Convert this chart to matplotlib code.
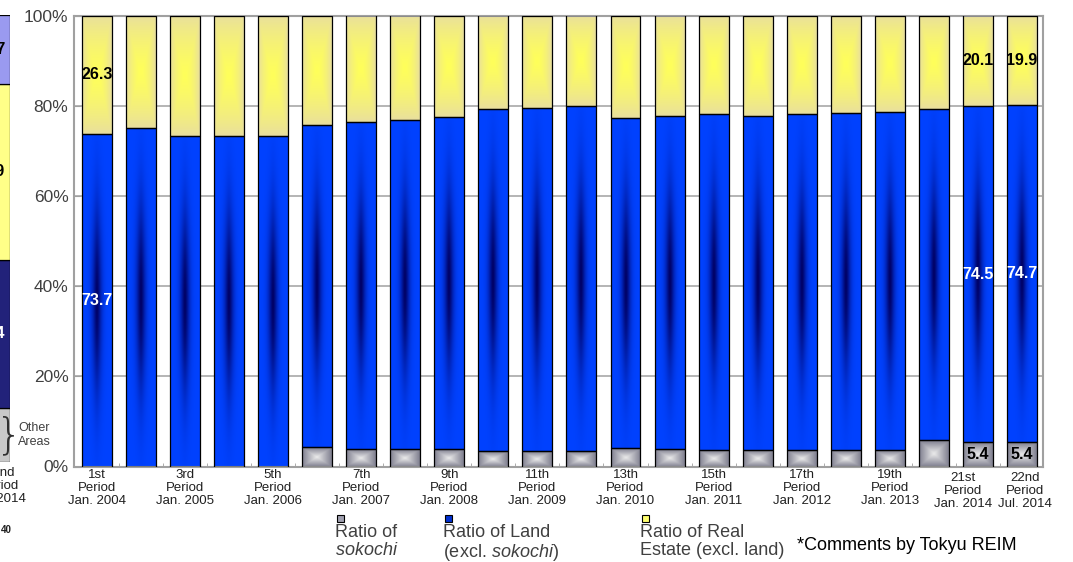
import numpy as np
import matplotlib
matplotlib.use("Agg")
import matplotlib.pyplot as plt
from matplotlib.patches import Rectangle
from matplotlib.transforms import ScaledTranslation

plt.rcParams['font.family'] = ['Liberation Sans', 'DejaVu Sans']
plt.rcParams['mathtext.fontset'] = 'custom'
plt.rcParams['mathtext.rm'] = 'Liberation Sans'
plt.rcParams['mathtext.it'] = 'Liberation Sans:italic'

# ---------------- data ----------------
periods = ["1st", "2nd", "3rd", "4th", "5th", "6th", "7th", "8th", "9th", "10th", "11th",
           "12th", "13th", "14th", "15th", "16th", "17th", "18th", "19th", "20th", "21st", "22nd"]
dates = ["Jan. 2004", "Jul. 2004", "Jan. 2005", "Jul. 2005", "Jan. 2006", "Jul. 2006",
         "Jan. 2007", "Jul. 2007", "Jan. 2008", "Jul. 2008", "Jan. 2009", "Jul. 2009",
         "Jan. 2010", "Jul. 2010", "Jan. 2011", "Jul. 2011", "Jan. 2012", "Jul. 2012",
         "Jan. 2013", "Jul. 2013", "Jan. 2014", "Jul. 2014"]
labeled_idx = [0, 2, 4, 6, 8, 10, 12, 14, 16, 18, 20, 21]

sokochi = [0, 0, 0, 0, 0, 4.4, 3.9, 3.9, 3.9, 3.4, 3.4, 3.4, 4.2, 3.9,
           3.7, 3.7, 3.7, 3.7, 3.7, 5.8, 5.4, 5.4]
land = [73.7, 75.1, 73.2, 73.2, 73.2, 71.3, 72.5, 72.9, 73.7, 75.9, 76.2, 76.5,
        73.1, 73.9, 74.4, 74.1, 74.4, 74.6, 74.9, 73.5, 74.5, 74.7]
real_estate = [26.3, 24.9, 26.8, 26.8, 26.8, 24.3, 23.6, 23.2, 22.4, 20.7, 20.4, 20.1,
               22.7, 22.2, 21.9, 22.2, 21.9, 21.7, 21.4, 20.7, 20.1, 19.9]

# labels shown on the chart: (bar index, series, text)
shown_labels = [(0, "land", "73.7"), (0, "re", "26.3"),
                (20, "sok", "5.4"), (20, "land", "74.5"), (20, "re", "20.1"),
                (21, "sok", "5.4"), (21, "land", "74.7"), (21, "re", "19.9")]

legend_names = ["Ratio of\n$\\it{sokochi}$", "Ratio of Land\n(excl. $\\it{sokochi}$)",
                "Ratio of Real\nEstate (excl. land)"]
yticks = [0, 20, 40, 60, 80, 100]

# neighbouring (cropped) chart on the left edge of the slide
frag_vals = [12.0, 33.3, 39.3, 15.4]
frag_cols = ["#c8c8c8", "#22227a", "#ffff88", "#9a9af0"]
frag_texts = [(1, "33.4", "white"), (2, "39.9", "black"), (3, "15.7", "black")]

# ---------------- gradients ----------------
def grad_blue(nx=40, ny=300):
    dx = np.linspace(-1, 1, nx)[None, :]
    dy = np.linspace(-1, 1, ny)[:, None]
    f = np.exp(-(np.abs(dx) / 0.32) ** 1.6 - (np.abs(dy) / 0.55) ** 2)
    base = np.array([0, 66, 255]) / 255
    dark = np.array([0, 0, 100]) / 255
    return base * (1 - f[..., None]) + dark * f[..., None]

def grad_yellow(nx=40, ny=200):
    dx = np.linspace(-1, 1, nx)[None, :]
    dy = np.linspace(-1, 1, ny)[:, None]
    f = np.clip(1 - np.maximum(np.abs(dx) ** 1.5, np.abs(dy) ** 1.2), 0, 1)
    f = f ** 0.8
    edge = np.array([232, 222, 160]) / 255
    mid = np.array([255, 255, 90]) / 255
    return edge * (1 - f[..., None]) + mid * f[..., None]

def grad_gray(nx=40, ny=20):
    dx = np.linspace(-1, 1, nx)[None, :]
    dy = np.linspace(-1, 1, ny)[:, None]
    f = np.clip(1 - np.maximum(np.abs(dx), np.abs(dy)), 0, 1)
    edge = np.array([128, 128, 144]) / 255
    mid = np.array([236, 236, 236]) / 255
    return edge * (1 - f[..., None]) + mid * f[..., None]

def fill_gradient(ax, bars, img):
    for p in bars:
        if p.get_height() <= 0:
            continue
        x0, y0 = p.get_x(), p.get_y()
        w, h = p.get_width(), p.get_height()
        im = ax.imshow(img, extent=(x0, x0 + w, y0, y0 + h), origin='lower',
                       aspect='auto', interpolation='bilinear', zorder=2)
        im.set_clip_path(p)

# ---------------- figure ----------------
W, H = 1073, 562
fig = plt.figure(figsize=(W / 100, H / 100), dpi=100)

def fx(px):
    return px / W

def fy(py):
    return 1 - py / H

ax_left, ax_right, ax_top, ax_bot = 74, 1043, 15.5, 466.5
ax = fig.add_axes([fx(ax_left), fy(ax_bot), fx(ax_right - ax_left), (ax_bot - ax_top) / H])

x = np.arange(len(periods))
bw = 0.68
sok = np.array(sokochi)
lnd = np.array(land)
rea = np.array(real_estate)

b1 = ax.bar(x, sok, bw, color="#a0a0b0", edgecolor="black", linewidth=0.9, zorder=3)
b2 = ax.bar(x, lnd, bw, bottom=sok, color="#0042ff", edgecolor="black", linewidth=0.9, zorder=3)
b3 = ax.bar(x, rea, bw, bottom=sok + lnd, color="#f0ec90", edgecolor="black", linewidth=0.9, zorder=3)
for bars in (b1, b2, b3):
    for p in bars:
        p.set_facecolor("none")
fill_gradient(ax, b1, grad_gray())
fill_gradient(ax, b2, grad_blue())
fill_gradient(ax, b3, grad_yellow())

ax.set_xlim(-0.522, 21.48)
ax.set_ylim(0, 100)
ax.set_yticks(yticks)
ax.set_yticklabels([f"{v}%" for v in yticks], fontsize=12.5, color="#404040")
ax.yaxis.grid(True, color="#a8a8a8", linewidth=1.2, zorder=0)
ax.set_axisbelow(True)
for s in ax.spines.values():
    s.set_color("#a0a0a0")
    s.set_linewidth(1.5)
ax.tick_params(axis='y', direction='in', length=4, color="#a0a0a0", pad=4)

ax.set_xticks(labeled_idx)
ax.set_xticklabels([f"{periods[i]}\nPeriod\n{dates[i]}" for i in labeled_idx],
                   fontsize=9.5, color="#202020", linespacing=1.12)
ax.tick_params(axis='x', length=0, pad=2)
ax.set_xticks(np.arange(len(periods) - 1) + 0.5, minor=True)
ax.tick_params(axis='x', which='minor', direction='in', length=3, color="#a0a0a0")
# the 21st-period label sits a little to the left and lower in the original
lbl21 = ax.get_xticklabels()[labeled_idx.index(20)]
lbl21.set_transform(lbl21.get_transform() + ScaledTranslation(-15 / 100, -3 / 100, fig.dpi_scale_trans))
lbl22 = ax.get_xticklabels()[labeled_idx.index(21)]
lbl22.set_transform(lbl22.get_transform() + ScaledTranslation(3 / 100, -3 / 100, fig.dpi_scale_trans))

seg_lookup = {"sok": (np.zeros_like(sok), sok),
              "land": (sok, lnd),
              "re": (sok + lnd, rea)}
for i, ser, txt in shown_labels:
    bot, hts = seg_lookup[ser]
    ycen = bot[i] + hts[i] / 2
    col = "white" if ser == "land" else "black"
    ax.text(x[i], ycen, txt, ha='center', va='center', fontsize=11.5,
            fontweight='bold', color=col, zorder=5)

# ---------------- legend ----------------
leg_x = [335, 443, 640]
leg_key_x = [337, 445, 642]
leg_face = ["#a0a0b0", "#0030d0", "#ffff70"]
for kx, fc in zip(leg_key_x, leg_face):
    fig.add_artist(Rectangle((fx(kx), fy(522)), 7 / W, 7 / H, facecolor=fc,
                             edgecolor="black", linewidth=0.8, transform=fig.transFigure))
for lx, name in zip(leg_x, legend_names):
    fig.text(fx(lx), fy(524), name, ha='left', va='top', fontsize=13,
             color="#404040", linespacing=1.05)
fig.text(fx(797), fy(545), "*Comments by Tokyu REIM", ha='left', va='center',
         fontsize=13, color="black")

# ---------------- cropped neighbouring chart ----------------
ax0 = fig.add_axes([fx(-30), fy(462), fx(40), (462 - 15) / H])
ax0.set_xlim(-0.5, 0.5)
ax0.set_ylim(0, 100)
ax0.axis('off')
fb = np.cumsum([0] + frag_vals[:-1])
ax0.bar([0] * len(frag_vals), frag_vals, 1.0, bottom=fb, color=frag_cols,
        edgecolor="black", linewidth=0.9)
for k, t, c in frag_texts:
    ax0.text(0.38, fb[k] + frag_vals[k] / 2, t, ha='right', va='center',
             fontsize=11.5, fontweight='bold', color=c, clip_on=False)
fig.text(fx(9), fy(436), "}", ha='center', va='center', fontsize=30,
         color="#303030", family="DejaVu Sans", fontweight='light')
fig.text(fx(18), fy(435), "Other\nAreas", ha='left', va='center', fontsize=9,
         color="#404040", linespacing=1.25)
fig.text(fx(0), fy(467), "22nd\nPeriod\nJul./2014", ha='center', va='top',
         fontsize=9.5, color="#202020", linespacing=1.12)
fig.text(fx(1), fy(530), "40", ha='left', va='center', fontsize=7,
         fontweight='bold', color="#202020")

fig.savefig("out.png", dpi=100)
